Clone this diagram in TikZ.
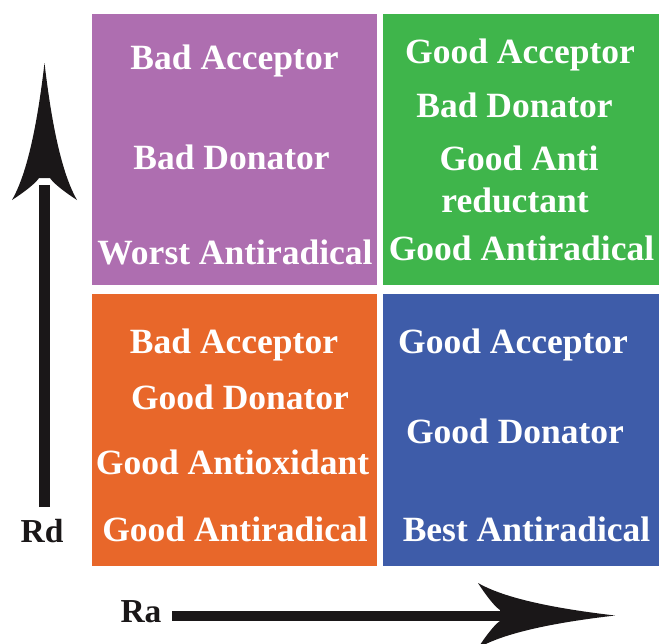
\documentclass[tikz,border=0pt]{standalone}
\usepackage{fontspec}
\newfontfamily\qserif[BoldFont={Liberation Serif Bold}]{Liberation Serif}
\definecolor{qpurple}{HTML}{AE6EB0}
\definecolor{qgreen}{HTML}{3FB54B}
\definecolor{qorange}{HTML}{E8672A}
\definecolor{qblue}{HTML}{3E5CA9}
\definecolor{qblack}{HTML}{1A1718}
\begin{document}
\begin{tikzpicture}[x=1pt,y=-1pt,
  lbl/.style={anchor=base,text=white,inner sep=0pt,font=\qserif\bfseries\fontsize{35.5}{40}\selectfont},
  axlbl/.style={anchor=base,text=qblack,inner sep=0pt,font=\qserif\bfseries\fontsize{33.5}{38}\selectfont},
  shaft/.style={draw=qblack,line cap=butt},
  headpic/.pic={\fill[qblack] (0,0) .. controls (-60,7) and (-110,17) .. (-137,32.5)
      .. controls (-127,17) and (-119,8) .. (-115,5.5) -- (-115,-5.5)
      .. controls (-119,-8) and (-127,-17) .. (-137,-32.5)
      .. controls (-110,-17) and (-60,-7) .. (0,0) -- cycle;}]
\useasboundingbox (0,0) rectangle (659,643);
% quadrants
\fill[qpurple] (92,14) rectangle (377,285) coordinate (pq);
\fill[qgreen] (383,14) rectangle (659,285) coordinate (gq);
\fill[qorange] (92,294) rectangle (377,566) coordinate (oq);
\fill[qblue] (383,294) rectangle (659,566) coordinate (bq);
% purple
\node[lbl] (p1) at (234.5,69) {Bad Acceptor};
\node[lbl] (p2) at (231.5,169) {Bad Donator};
\node[lbl] (p3) at (235,264) {Worst Antiradical};
% green
\node[lbl] (g1) at (520,63) {Good Acceptor};
\node[lbl] (g2) at (514.5,117) {Bad Donator};
\node[lbl] (g3) at (519,170) {Good Anti};
\node[lbl] (g4) at (515,212) {reductant};
\node[lbl] (g5) at (521.5,260) {Good Antiradical};
% orange
\node[lbl] (o1) at (234,353) {Bad Acceptor};
\node[lbl] (o2) at (240,409) {Good Donator};
\node[lbl] (o3) at (232.5,474) {Good Antioxidant};
\node[lbl] (o4) at (235,541) {Good Antiradical};
% blue
\node[lbl] (b1) at (513,353) {Good Acceptor};
\node[lbl] (b2) at (515,443) {Good Donator};
\node[lbl] (b3) at (526.5,541) {Best Antiradical};
% axes
\node[axlbl] (rd) at (42,542) {Rd};
\node[axlbl] (ra) at (141,622) {Ra};
\coordinate (rdfoot) at (44.5,507);
\coordinate (rdneck) at (44.5,185);
\coordinate (rdtip) at (44.5,63);
\coordinate (rafoot) at (172,615.5);
\coordinate (raneck) at (505,615.5);
\coordinate (ratip) at (615,615.5);
\draw[shaft,line width=11pt] (rdfoot) -- (rdneck);
\pic[rotate=90] at (rdtip) {headpic};
\draw[shaft,line width=10pt] (rafoot) -- (raneck);
\pic at (ratip) {headpic};
\end{tikzpicture}
\end{document}
